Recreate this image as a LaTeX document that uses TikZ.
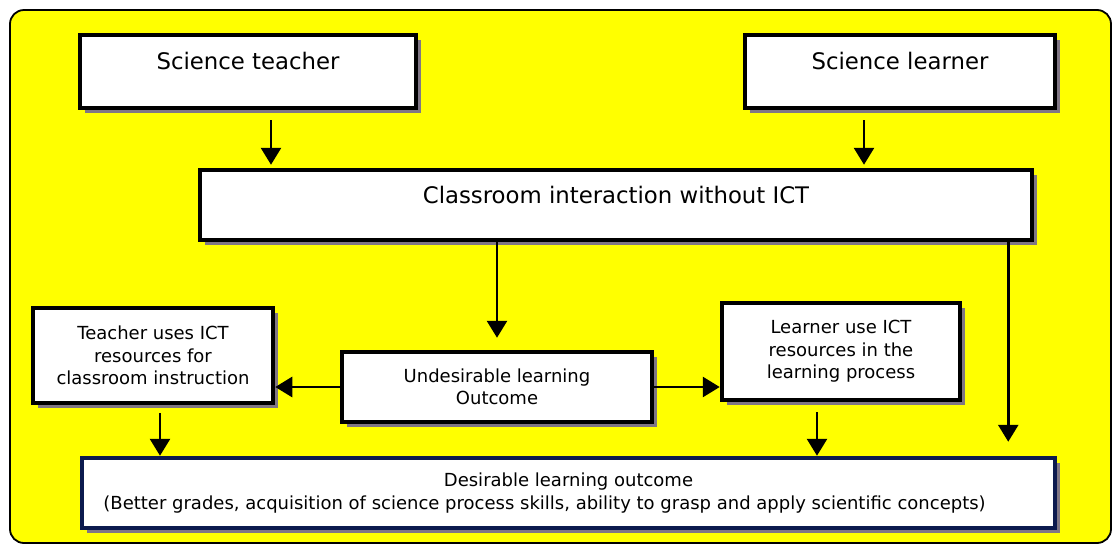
\documentclass[tikz,border=0pt]{standalone}
\usepackage{fontspec}
\setmainfont{DejaVu Sans}
\usepackage{tikz}
\usetikzlibrary{arrows.meta}
\usetikzlibrary{shadows}
\definecolor{bgyellow}{RGB}{255,255,0}
\definecolor{shadowgray}{RGB}{128,118,132}
\definecolor{navyline}{RGB}{12,26,78}
\tikzset{whitebox/.style={draw=black, line width=4.5pt, fill=white, inner sep=0pt, align=center, text=black,
    drop shadow={shadow xshift=5pt, shadow yshift=-5pt, fill=shadowgray, opacity=1}}}
\tikzset{headbox/.style={whitebox, font=\fontsize{22.8}{27}\selectfont, text height=33pt, text depth=37pt}}
\tikzset{smallbox/.style={whitebox, font=\fontsize{18}{22.5}\selectfont}}
\tikzstyle{flowarrow} = [line width=2.8pt, -{Triangle[width=20pt,length=17pt]}]

\begin{document}
\begin{tikzpicture}[x=1pt,y=-1pt]
\useasboundingbox (0,0) rectangle (1114,547);
\draw[line width=1.8pt, fill=bgyellow, rounded corners=14pt] (10,10) rectangle (1111,543);

% who takes part
\node[headbox, minimum width=336pt, minimum height=73pt] (teacher) at (248,71.5) {Science teacher};
\node[headbox, minimum width=310pt, minimum height=73pt] (learner) at (900,71.5) {Science learner};
\node[headbox, minimum width=832pt, minimum height=70pt] (classroom) at (616,205) {Classroom interaction without ICT};

% middle row
\node[smallbox, minimum width=240pt, minimum height=95pt] (teachict) at (153,355.5) {Teacher uses ICT\\resources for\\classroom instruction};
\node[smallbox, minimum width=310pt, minimum height=70pt] (undesired) at (497,387) {Undesirable learning\\Outcome};
\node[smallbox, minimum width=238pt, minimum height=97pt] (learnict) at (841,351.5) {Learner use ICT\\resources in the\\learning process};

%\node[smallbox] (desired) ... 
\node[smallbox, draw=navyline, minimum width=973pt, minimum height=70pt] (desired) at (568.5,493) {Desirable learning outcome\\(Better grades, acquisition of science process skills, ability to grasp and apply scientific concepts)\hspace*{48pt}};

\draw[flowarrow, shorten <=10pt, shorten >=3pt] ([xshift=23pt]teacher.south) -- ([xshift=23pt]teacher.south |- classroom.north);
\draw[flowarrow, shorten <=10pt, shorten >=3pt] ([xshift=-36pt]learner.south) -- ([xshift=-36pt]learner.south |- classroom.north);
\draw[flowarrow, shorten >=12pt] (classroom.south -| undesired.north) -- (undesired.north);
\draw[flowarrow, shorten >=14pt] ([xshift=-26pt]classroom.south east) -- ([xshift=-26pt]classroom.south east |- desired.north);
\draw[flowarrow] (undesired.west) -- (undesired.west -| teachict.east);
\draw[flowarrow] (undesired.east) -- (undesired.east -| learnict.west);
\draw[flowarrow, shorten <=8pt] ([xshift=7pt]teachict.south) -- ([xshift=7pt]teachict.south |- desired.north);
\draw[flowarrow, shorten <=10pt] ([xshift=-24pt]learnict.south) -- ([xshift=-24pt]learnict.south |- desired.north);
\end{tikzpicture}
\end{document}
